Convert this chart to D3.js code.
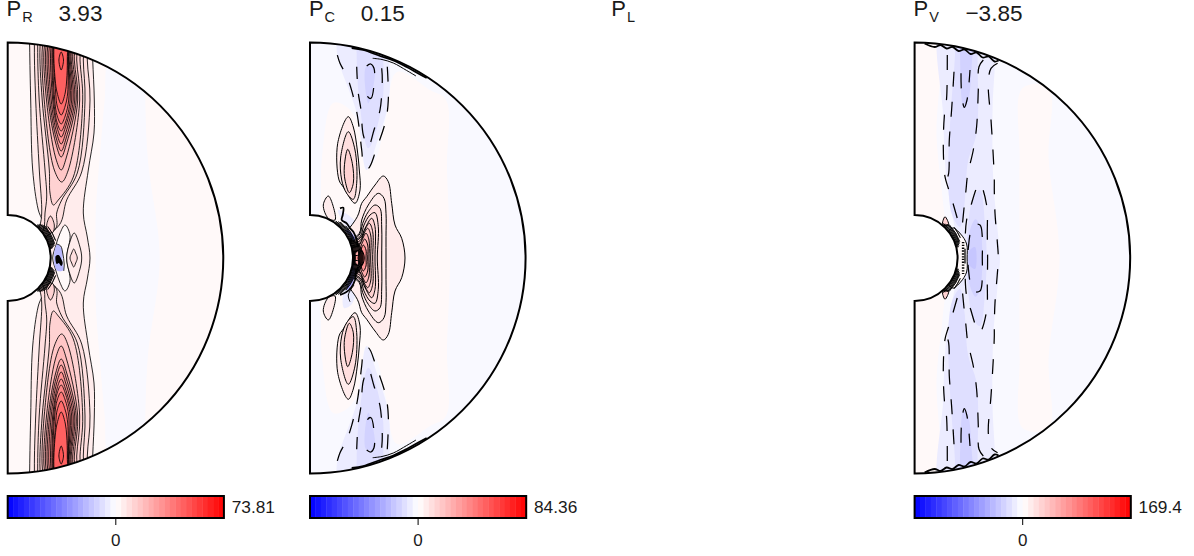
<!DOCTYPE html>
<html>
<head>
<meta charset="utf-8">
<script src="https://cdn.jsdelivr.net/npm/d3@7"></script>
<style>
  html, body { margin: 0; padding: 0; background: #fff; }
  text { font-family: "Liberation Sans", Arial, sans-serif; fill: #1a1a1a; }
</style>
</head>
<body>
<div id="my_dataviz"></div>
<script>
// panel titles and colour bar numbers
const panelNames = ["R", "C", "L", "V"];
const panelTotals = ["3.93", "0.15", "", "\u22123.85"];
const barMaxima = [73.81, 84.36, null, 169.4];
const barLabels = ["73.81", "84.36", "", "169.4"];
const barSteps = d3.range(40);

// shell geometry, same units as the contour points (s, z)
const outerRadius = 215.5;
const innerRadius = 43;

// contour layers: [value, kind, line, points]
// kind L = loop repeated in both hemispheres, S = north half closed through its mirror image,
// N = closed and drawn once as typed, P = open and drawn once, O = open line in both hemispheres,
// M = open line carried on through its mirror image, C = outline closed through its mirror image
// line 0 = no line, 1 = solid, 2 = dashed, 3 = dotted, 4 = heavy
// value null = solid black
const prLayers = [
  [2.2, "N", 0, [[-5, 240], [240, 240], [240, -240], [-5, -240]]],
  [-2, "S", 0, [[88, 0], [88, 45], [92, 100], [97, 158], [102, 205], [136, 240], [137, 190], [140, 100], [152, 0]]],
  [5, "S", 1, [[82.3, 0], [79.6, 21], [75.6, 45], [80.6, 88], [86.3, 125], [86.6, 158], [85, 198], [84, 225], [22, 240], [22, 211], [23, 158], [25, 88], [30.6, 48], [37.3, 28], [20, 15], [0, 0]]],
  [8, "L", 1, [[25, 15], [51.6, 33], [59, 58], [74, 86], [82.3, 158], [79.6, 198], [80, 225], [28, 240], [26.7, 211], [28, 158], [31.6, 88], [34, 45], [32.3, 33]]],
  [11, "L", 1, [[25, 15], [48.3, 30], [49, 45], [54, 58], [69.6, 85], [77.3, 158], [75.6, 198], [76, 225], [31, 235], [30, 211], [31.5, 158], [37.3, 88], [39, 61], [37.3, 45], [35.6, 28]]],
  [14, "L", 1, [[45.6, 53], [50.6, 58], [65.6, 81], [75, 158], [72.3, 198], [72, 225], [35, 230], [32.3, 211], [34.5, 158], [41.6, 88], [42.3, 65]]],
  [14, "L", 1, [[42.8, 42], [46.6, 33], [45, 25.5], [40.5, 26], [39, 33]]],
  [17.5, "L", 1, [[54, 76], [60.6, 88], [72, 158], [69, 198], [69, 225], [38, 225], [34.7, 211], [36.5, 158], [46.6, 88]]],
  [20.5, "L", 1, [[53.5, 88], [58.5, 100], [70, 158], [66.6, 198], [66, 225], [41, 225], [36.6, 211], [38.8, 158], [48, 100]]],
  [24, "L", 1, [[53.5, 101], [59, 115], [68.5, 158], [65, 198], [64, 225], [43, 225], [38.3, 211], [40.5, 158], [48, 115]]],
  [27, "L", 1, [[53.5, 107], [58.5, 120], [67, 158], [63.5, 198], [62, 225], [45, 225], [40, 211], [42, 158], [48.5, 120]]],
  [30, "L", 1, [[53.5, 114], [58, 125], [65.5, 158], [62.5, 198], [61, 225], [46, 225], [41.6, 211], [43.5, 158], [49, 125]]],
  [33, "L", 1, [[53.5, 121], [57.5, 130], [64, 158], [61.5, 198], [60, 225], [47, 225], [43.3, 211], [45, 158], [49.5, 130]]],
  [36, "L", 1, [[53.5, 127], [57.5, 135], [62.5, 158], [60.8, 198], [60, 225], [47, 225], [44.5, 211], [46, 158], [49.5, 135]]],
  [39, "L", 1, [[53.5, 134], [57.5, 142], [61, 158], [60.4, 198], [59, 225], [48, 225], [45.3, 211], [47, 158], [49.5, 142]]],
  [42, "L", 1, [[53.5, 143], [57.5, 152], [60, 165], [60, 198], [59, 225], [48, 225], [45.8, 211], [48, 165], [49.5, 152]]],
  [45, "L", 1, [[53.5, 154], [57.5, 165], [59, 178], [59.6, 198], [58, 225], [49, 225], [46.3, 211], [47.5, 178], [49.5, 165]]],
  [48, "L", 1, [[53.5, 206], [55.8, 198], [53.5, 188], [51.2, 198]]],
  [0, "S", 1, [[59, 0], [62.3, 23], [57.3, 33], [52, 24], [48, 12], [45, 0]]],
  [5, "S", 1, [[74, 0], [72, 12], [66.5, 25], [61, 12], [59, 0]]],
  [11, "S", 1, [[69.6, 0], [68, 5], [66, 9], [64, 5], [62.3, 0]]],
  [-20, "N", 0, [[47, 8], [50, 14], [54, 9], [55, -5], [56, -12], [50, -13], [47, -8]]],
  [null, "N", 0, [[48, 2], [51, 3], [53, 0], [55, -5], [53.5, -8], [51, -5], [49, -6]]],
  [null, "P", 1, [[49, 14], [53, 12], [55, 5], [56.5, -6], [56, -13]]]
];
const prShell = [[44, 12, 48], [45, 12, 48], [46, 13, 47], [47, 14, 46], [48, 15, 44], [49, 17, 42], [51, 20, 38]];

const pcLayers = [
  [-2, "N", 0, [[-5, 240], [240, 240], [240, -240], [-5, -240]]],
  [2, "S", 0, [[140, 0], [137, 90], [136, 158], [120, 168], [87, 186], [76, 140], [66, 100], [56, 88], [50, 130], [38, 150], [23, 155], [12, 100], [10, 50], [0, 0]]],
  [-6, "L", 0, [[26.7, 213], [28.3, 198], [46.7, 145], [56.7, 88], [66.7, 114.7], [78.3, 154.7], [79.3, 194.7], [76.7, 201], [70, 225], [30, 225]]],
  [-11, "L", 0, [[46.7, 203], [49.3, 158], [58.3, 109.7], [71.7, 151], [73.3, 194.7], [70, 225], [48, 225]]],
  [-16, "L", 0, [[56, 191], [58.3, 154.7], [63.3, 171], [64, 191]]],
  [5.4, "L", 1, [[38.3, 141.3], [27.7, 114.7], [29, 78], [33.3, 71], [45, 54.7], [50, 68], [49.3, 88], [47.3, 108], [43.3, 131]]],
  [10.8, "L", 1, [[38.3, 126.3], [30.7, 101], [31.7, 78], [36.7, 64.7], [43.3, 58.7], [46.7, 74.7], [45, 108]]],
  [14, "L", 1, [[37.7, 108.7], [34.3, 91], [35, 78], [39.3, 65.3], [43.3, 74.7], [42.3, 94.7]]],
  [5.4, "L", 1, [[18.3, 62], [13.3, 53], [18.3, 39.7], [25, 38], [23.3, 51.3]]],
  [-8, "N", 0, [[28, 48], [42, 40], [50, 30], [38, 30]]],
  [-8, "N", 0, [[35, -30], [46, -25], [42, -46], [34, -50]]],
  [5.4, "S", 1, [[95, 0], [91.7, 19.7], [85, 33], [81.7, 54.7], [78.3, 76.3], [73.3, 82], [65, 73], [56.7, 61.3], [51.7, 54.7], [47.3, 41.3], [30, 20], [0, 0]]],
  [7, "S", 1, [[76, 0], [76, 21.3], [76, 44.7], [74, 59.7], [68.3, 64.7], [58.3, 53], [51.7, 38], [49.3, 24.7], [30, 10]]],
  [9, "S", 1, [[71.7, 0], [71.7, 31], [70, 49.7], [65, 53], [58.3, 46.3], [52.7, 34.7], [49.3, 23], [30, 10]]],
  [11, "S", 1, [[67.3, 0], [68.3, 31.3], [65, 45.3], [60, 43], [54, 33], [50, 21.3], [30, 10]]],
  [13, "S", 1, [[65, 0], [65, 31.3], [61.7, 39.7], [55, 29.7], [50, 19.7], [30, 10]]],
  [16, "S", 1, [[62.7, 0], [62.7, 26.3], [59.3, 34.7], [54, 26.3], [50, 17.3], [30, 10]]],
  [19, "S", 1, [[60.7, 0], [60.7, 23], [57.7, 29.7], [53.3, 23], [50, 15], [30, 8]]],
  [22, "S", 1, [[59, 0], [59, 18], [56, 24.7], [52, 18], [49.3, 13], [30, 6]]],
  [27, "S", 1, [[57.7, 0], [57.7, 13], [54.7, 19], [51.3, 13], [49, 8], [30, 4]]],
  [34, "S", 1, [[56, 0], [56, 8], [53.3, 13], [50.3, 6.3], [48.7, 3], [30, 2]]],
  [50, "S", 1, [[54.3, 0], [53.3, 5], [51.3, 7], [49, 3], [48, 0]]],
  [-30, "N", 0, [[35, 28], [40, 27], [45, 19.7], [44, 17], [38.3, 23.7]]],
  [-30, "N", 0, [[43.3, -7], [45, -15.3], [41.7, -27], [36.7, -32], [38.3, -22], [41.7, -12]]],
  [null, "P", 4, [[30, 49.7], [33.3, 50.3], [32.7, 43], [31.7, 38], [36.7, 34.7], [40, 29.7], [43.3, 26.3], [46.7, 18], [48.3, 11.3]]],
  [null, "P", 4, [[30, -37], [36, -34.3], [40.7, -30.3], [45, -22], [46, -13.7], [48.3, -8.7]]],
  [null, "P", 1, [[40, -43.7], [38.3, -37], [44, -27]]],
  [null, "O", 2, [[77.3, 191.3], [78.3, 158], [75.7, 137.3], [66, 108], [58.3, 89.7], [54, 92], [51.7, 108], [47.3, 143], [41.7, 167.3], [36.7, 182], [30, 194.7], [27.3, 203]]],
  [null, "O", 2, [[71.7, 189.7], [72.3, 178], [70, 148], [64, 128], [58.3, 111.3], [53.3, 123], [51, 148], [48.3, 164.7], [47.3, 178], [46.7, 191.3]]],
  [null, "O", 2, [[56.7, 192], [60.7, 194], [64, 189.7], [64, 173], [61, 159.7], [57.7, 161.3], [56.7, 176.3]]],
  [null, "O", 4, [[41.7, 210], [53.3, 208], [70, 202], [83.3, 197.5], [96.7, 191], [108.3, 184.5], [116.7, 180]]],
  [null, "O", 1, [[62.7, 199.7], [72, 198.5], [83.3, 195], [96.7, 187.5], [106, 182]]]
];
const pcShell = [[44, 5, 55], [45, 5, 55], [46, 6, 52], [47, 7, 50], [48, 8, 42], [49, 0, 20], [50, 0, 18], [51, 0, 15], [52, 0, 12], [53, 0, 8], [44, -8, 8], [45, -6, 6]];

const pvLayers = [
  [-1.5, "N", 0, [[-5, 240], [240, 240], [240, -240], [-5, -240]]],
  [4, "S", 0, [[20, 0], [30, 30], [28, 60], [22, 120], [22, 240], [-5, 240], [-5, 0]]],
  [3, "S", 0, [[105, 0], [105, 100], [108, 170], [134, 170], [134, 100], [145, 0]]],
  [-10, "S", 0, [[85.4, 0], [83.7, 21], [78.7, 78], [78, 150], [80.4, 198], [80, 240], [28, 240], [28.7, 140], [32, 78], [40, 31], [44, 12], [40, 0]]],
  [-20, "L", 0, [[63, 201], [62, 125], [53.7, 98], [51.4, 78], [50, 54.7], [45.4, 31], [37, 44.7], [33.7, 88], [33.7, 98], [37, 158], [40.4, 203], [40.4, 240], [63, 240]]],
  [-30, "L", 0, [[45.4, 203], [47.7, 154.7], [49.7, 150], [53.7, 158], [57, 191], [57, 240], [45.4, 240]]],
  [-20, "S", 0, [[72, 0], [70.4, 34.7], [65.4, 68], [58.7, 61], [53.7, 34.7], [52, 0]]],
  [-30, "S", 0, [[67.7, 0], [65.4, 31], [61, 38.7], [55.4, 28], [53, 0]]],
  [-40, "S", 0, [[62, 0], [60.4, 11], [55.4, 8], [53.7, 0]]],
  [0, "S", 1, [[52.5, 0], [52, 14], [46, 24], [38, 30], [30, 20], [20, 0]]],
  [30, "L", 1, [[30.4, 41.3], [34, 33], [28, 33]]],
  [null, "M", 3, [[48.5, 16], [48.5, 0]]],
  [null, "O", 2, [[32.7, 203], [32, 159.7], [29.7, 141.3], [28.7, 111.3], [30.4, 81.3], [33.7, 69.7], [39.4, 51.3], [45.4, 29.7]]],
  [null, "O", 2, [[39.4, 186.3], [37, 148], [34.7, 118], [33.7, 83], [31, 78]]],
  [null, "O", 2, [[46.4, 184.7], [47, 164.7], [49.7, 150.7], [52.4, 158], [55.4, 188]]],
  [null, "O", 2, [[68.7, 198], [64.4, 191.3], [63.7, 168], [62, 131.3], [58.7, 108], [53, 83], [51.4, 68], [49.4, 49.7], [47, 25]]],
  [null, "M", 2, [[83, 194.7], [76.4, 189.7], [73.7, 174.7], [76.4, 138], [78.7, 101.3], [79.7, 78], [79.7, 68], [80.4, 44.7], [82.7, 16.3], [83.7, 0]]],
  [null, "C", 2, [[73, 0], [72.7, 23], [72, 53], [65.4, 74], [62, 69.7], [56, 51.3], [52, 38], [50.4, 0]]],
  [null, "C", 2, [[67.7, 0], [67.7, 21], [65.4, 33], [58.7, 33], [53.7, 9.7], [53.7, 0]]],
  [null, "O", 4, [[10, 214.5], [20, 211], [26, 213], [32, 209.5], [38, 211], [44, 207], [50, 208.5], [56, 204], [62, 205.5], [68, 200.5], [74, 201.5], [80, 196.5], [84, 197.5]]]
];
const pvShell = [[44, 14, 50], [45, 14, 50], [46, 16, 48], [47, 18, 46], [48, 20, 44], [50, 24, 38]];

const panelLayers = [prLayers, pcLayers, null, pvLayers];
const panelShells = [prShell, pcShell, null, pvShell];
const panelLineWidth = [0.85, 1, null, 1];

// pixel placing of the panels
const panelLeft = [7.7, 310, 612.3, 914.6];
const centreY = 258;

const svg = d3.select("#my_dataviz").append("svg")
  .attr("width", 1194)
  .attr("height", 556)
  .style("display", "block");

const barColour = d3.scaleLinear().domain([-1, 0, 1]).range(["#0000ff", "#ffffff", "#ff0000"]);
const barRange = barSteps.map(i => barColour((i + 0.5) / 20 - 1));

const closedLine = d3.line().curve(d3.curveCatmullRomClosed.alpha(0.5));
const openLine = d3.line().curve(d3.curveCatmullRom.alpha(0.5));

panelNames.forEach((name, p) => {
  const left = panelLeft[p];
  const g = svg.append("g");

  // title
  g.append("text").attr("x", left - 1.1).attr("y", 16).style("font-size", "22px").text("P");
  g.append("text").attr("x", left + 14.6).attr("y", 21.7).style("font-size", "14.5px").text(name);
  g.append("text").attr("x", left + 50.8).attr("y", 20.7).style("font-size", "22.6px").text(panelTotals[p]);

  if (!panelLayers[p]) return;

  const x = d3.scaleLinear().domain([0, outerRadius]).range([left, left + outerRadius]);
  const y = d3.scaleLinear().domain([outerRadius, -outerRadius]).range([centreY - outerRadius, centreY + outerRadius]);
  const fill = d3.scaleQuantize().domain([-barMaxima[p], barMaxima[p]]).range(barRange);

  const shell = d3.arc().innerRadius(innerRadius).outerRadius(outerRadius).startAngle(0).endAngle(Math.PI);
  const clipId = "clip" + p;
  svg.append("clipPath").attr("id", clipId).append("path")
    .attr("transform", "translate(" + x(0) + "," + y(0) + ")")
    .attr("d", shell());

  const plot = g.append("g").attr("clip-path", "url(#" + clipId + ")");

  const toPixels = pts => pts.map(d => [x(d[0]), y(d[1])]);
  const flip = pts => pts.map(d => [d[0], -d[1]]);
  const mirrored = pts => pts.concat(flip(pts).reverse().filter(d => d[1] !== 0));

  function addPath(d, value, line, filled) {
    const path = plot.append("path").attr("d", d)
      .attr("fill", filled ? (value === null ? "#000" : fill(value)) : "none")
      .attr("stroke", line ? "#000" : "none")
      .attr("stroke-linejoin", "round")
      .attr("stroke-width", line === 4 ? 1.8 : panelLineWidth[p]);
    if (line === 2) path.attr("stroke-dasharray", "15 15").attr("stroke-width", 1.25);
    if (line === 3) path.attr("stroke-dasharray", "1.4 1.4").attr("stroke-width", 2.5);
  }

  panelLayers[p].forEach(([value, kind, line, pts]) => {
    if (kind === "N") {
      addPath(closedLine(toPixels(pts)), value, line, true);
    } else if (kind === "P") {
      addPath(openLine(toPixels(pts)), value, line, false);
    } else if (kind === "L") {
      addPath(closedLine(toPixels(pts)), value, line, true);
      addPath(closedLine(toPixels(flip(pts))), value, line, true);
    } else if (kind === "S") {
      addPath(closedLine(toPixels(mirrored(pts))), value, line, true);
    } else if (kind === "C") {
      addPath(closedLine(toPixels(mirrored(pts))), value, line, false);
    } else if (kind === "M") {
      addPath(openLine(toPixels(mirrored(pts))), value, line, false);
    } else {
      addPath(openLine(toPixels(pts)), value, line, false);
      addPath(openLine(toPixels(flip(pts))), value, line, false);
    }
  });

  // dense contours packed against the inner boundary
  panelShells[p].forEach(([r, lat0, lat1]) => {
    [1, -1].forEach(side => {
      const a0 = (90 - side * lat0) * Math.PI / 180;
      const a1 = (90 - side * lat1) * Math.PI / 180;
      plot.append("path")
        .attr("transform", "translate(" + x(0) + "," + y(0) + ")")
        .attr("d", d3.arc()({ innerRadius: r, outerRadius: r, startAngle: a0, endAngle: a1 }))
        .attr("fill", "none")
        .attr("stroke", "#000")
        .attr("stroke-width", 0.8);
    });
  });

  // shell outline
  g.append("path")
    .attr("transform", "translate(" + x(0) + "," + y(0) + ")")
    .attr("d", shell())
    .attr("fill", "none")
    .attr("stroke", "#000")
    .attr("stroke-width", 2);

  // colour bar
  const barX = d3.scaleBand().domain(barSteps).range([left, left + outerRadius + 0.7]);
  const barY = 496;
  const barH = 22;
  g.selectAll(".step").data(barSteps).enter().append("rect")
    .attr("x", d => barX(d))
    .attr("y", barY)
    .attr("width", barX.bandwidth() + 0.4)
    .attr("height", barH)
    .attr("fill", d => barRange[d]);
  g.append("rect")
    .attr("x", left).attr("y", barY)
    .attr("width", outerRadius + 0.7).attr("height", barH)
    .attr("fill", "none").attr("stroke", "#000").attr("stroke-width", 2);
  const mid = left + (outerRadius + 0.7) / 2;
  g.append("line").attr("x1", mid).attr("x2", mid).attr("y1", barY + barH).attr("y2", barY + barH + 7)
    .attr("stroke", "#000").attr("stroke-width", 1);
  g.append("text").attr("x", mid).attr("y", 546).attr("text-anchor", "middle").style("font-size", "17px").text("0");
  g.append("text").attr("x", left + outerRadius + 8.5).attr("y", 513).style("font-size", "17.3px").text(barLabels[p]);
});
</script>
</body>
</html>
